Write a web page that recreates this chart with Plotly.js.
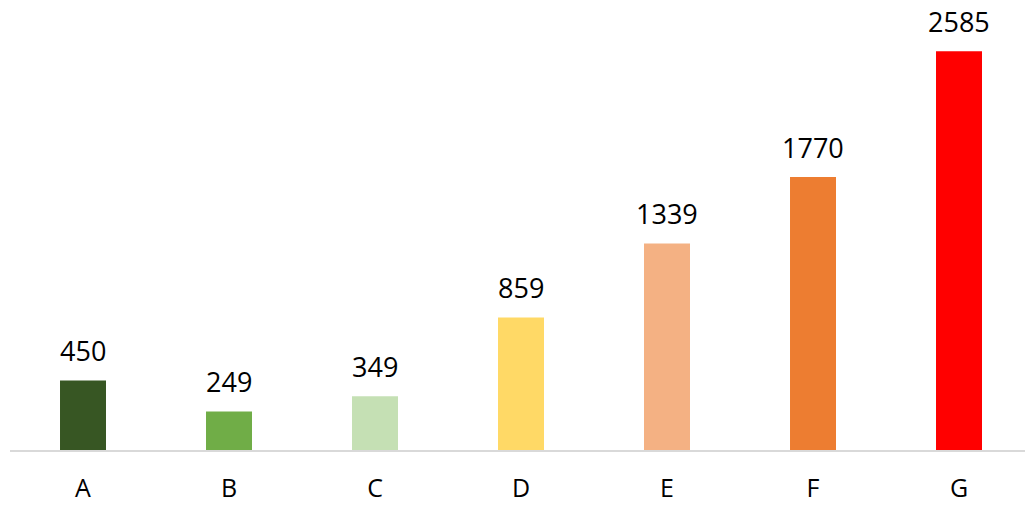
<!DOCTYPE html>
<html>
<head>
<meta charset="utf-8">
<script src="https://cdn.plot.ly/plotly-3.0.1.min.js"></script>
<style>html,body{margin:0;padding:0;background:#fff;}#chart{width:1025px;height:505px;}</style>
</head>
<body>
<div id="chart"></div>
<script>
const categories = ["A", "B", "C", "D", "E", "F", "G"];
const values = [450, 249, 349, 859, 1339, 1770, 2585];
const barColors = ["#375623", "#70AD47", "#C5E0B4", "#FFD966", "#F4B183", "#ED7D31", "#FF0000"];

const FONT = "Open Sans, Liberation Sans, sans-serif";

const trace = {
  type: "bar",
  x: categories,
  y: values,
  marker: { color: barColors, line: { width: 0 } },
  hoverinfo: "x+y"
};

const annotations = categories.map((c, i) => ({
  x: c,
  y: values[i],
  xref: "x",
  yref: "y",
  text: String(values[i]),
  showarrow: false,
  yanchor: "middle",
  yshift: 30,
  font: { family: FONT, size: 27, color: "#000" }
}));

const layout = {
  width: 1025,
  height: 505,
  margin: { l: 10, r: 0, t: 0, b: 55 },
  paper_bgcolor: "#fff",
  plot_bgcolor: "#fff",
  bargap: 0.685,
  showlegend: false,
  xaxis: {
    type: "category",
    range: [-0.5, 6.452],
    showline: true,
    linecolor: "#d9d9d9",
    linewidth: 1.5,
    showgrid: false,
    zeroline: false,
    ticks: "",
    ticklabelstandoff: 15,
    tickfont: { family: FONT, size: 25, color: "#000" }
  },
  yaxis: {
    range: [0, 2918],
    visible: false,
    showgrid: false,
    zeroline: false
  },
  annotations: annotations
};

Plotly.newPlot("chart", [trace], layout, { displayModeBar: false, staticPlot: true });
</script>
</body>
</html>
